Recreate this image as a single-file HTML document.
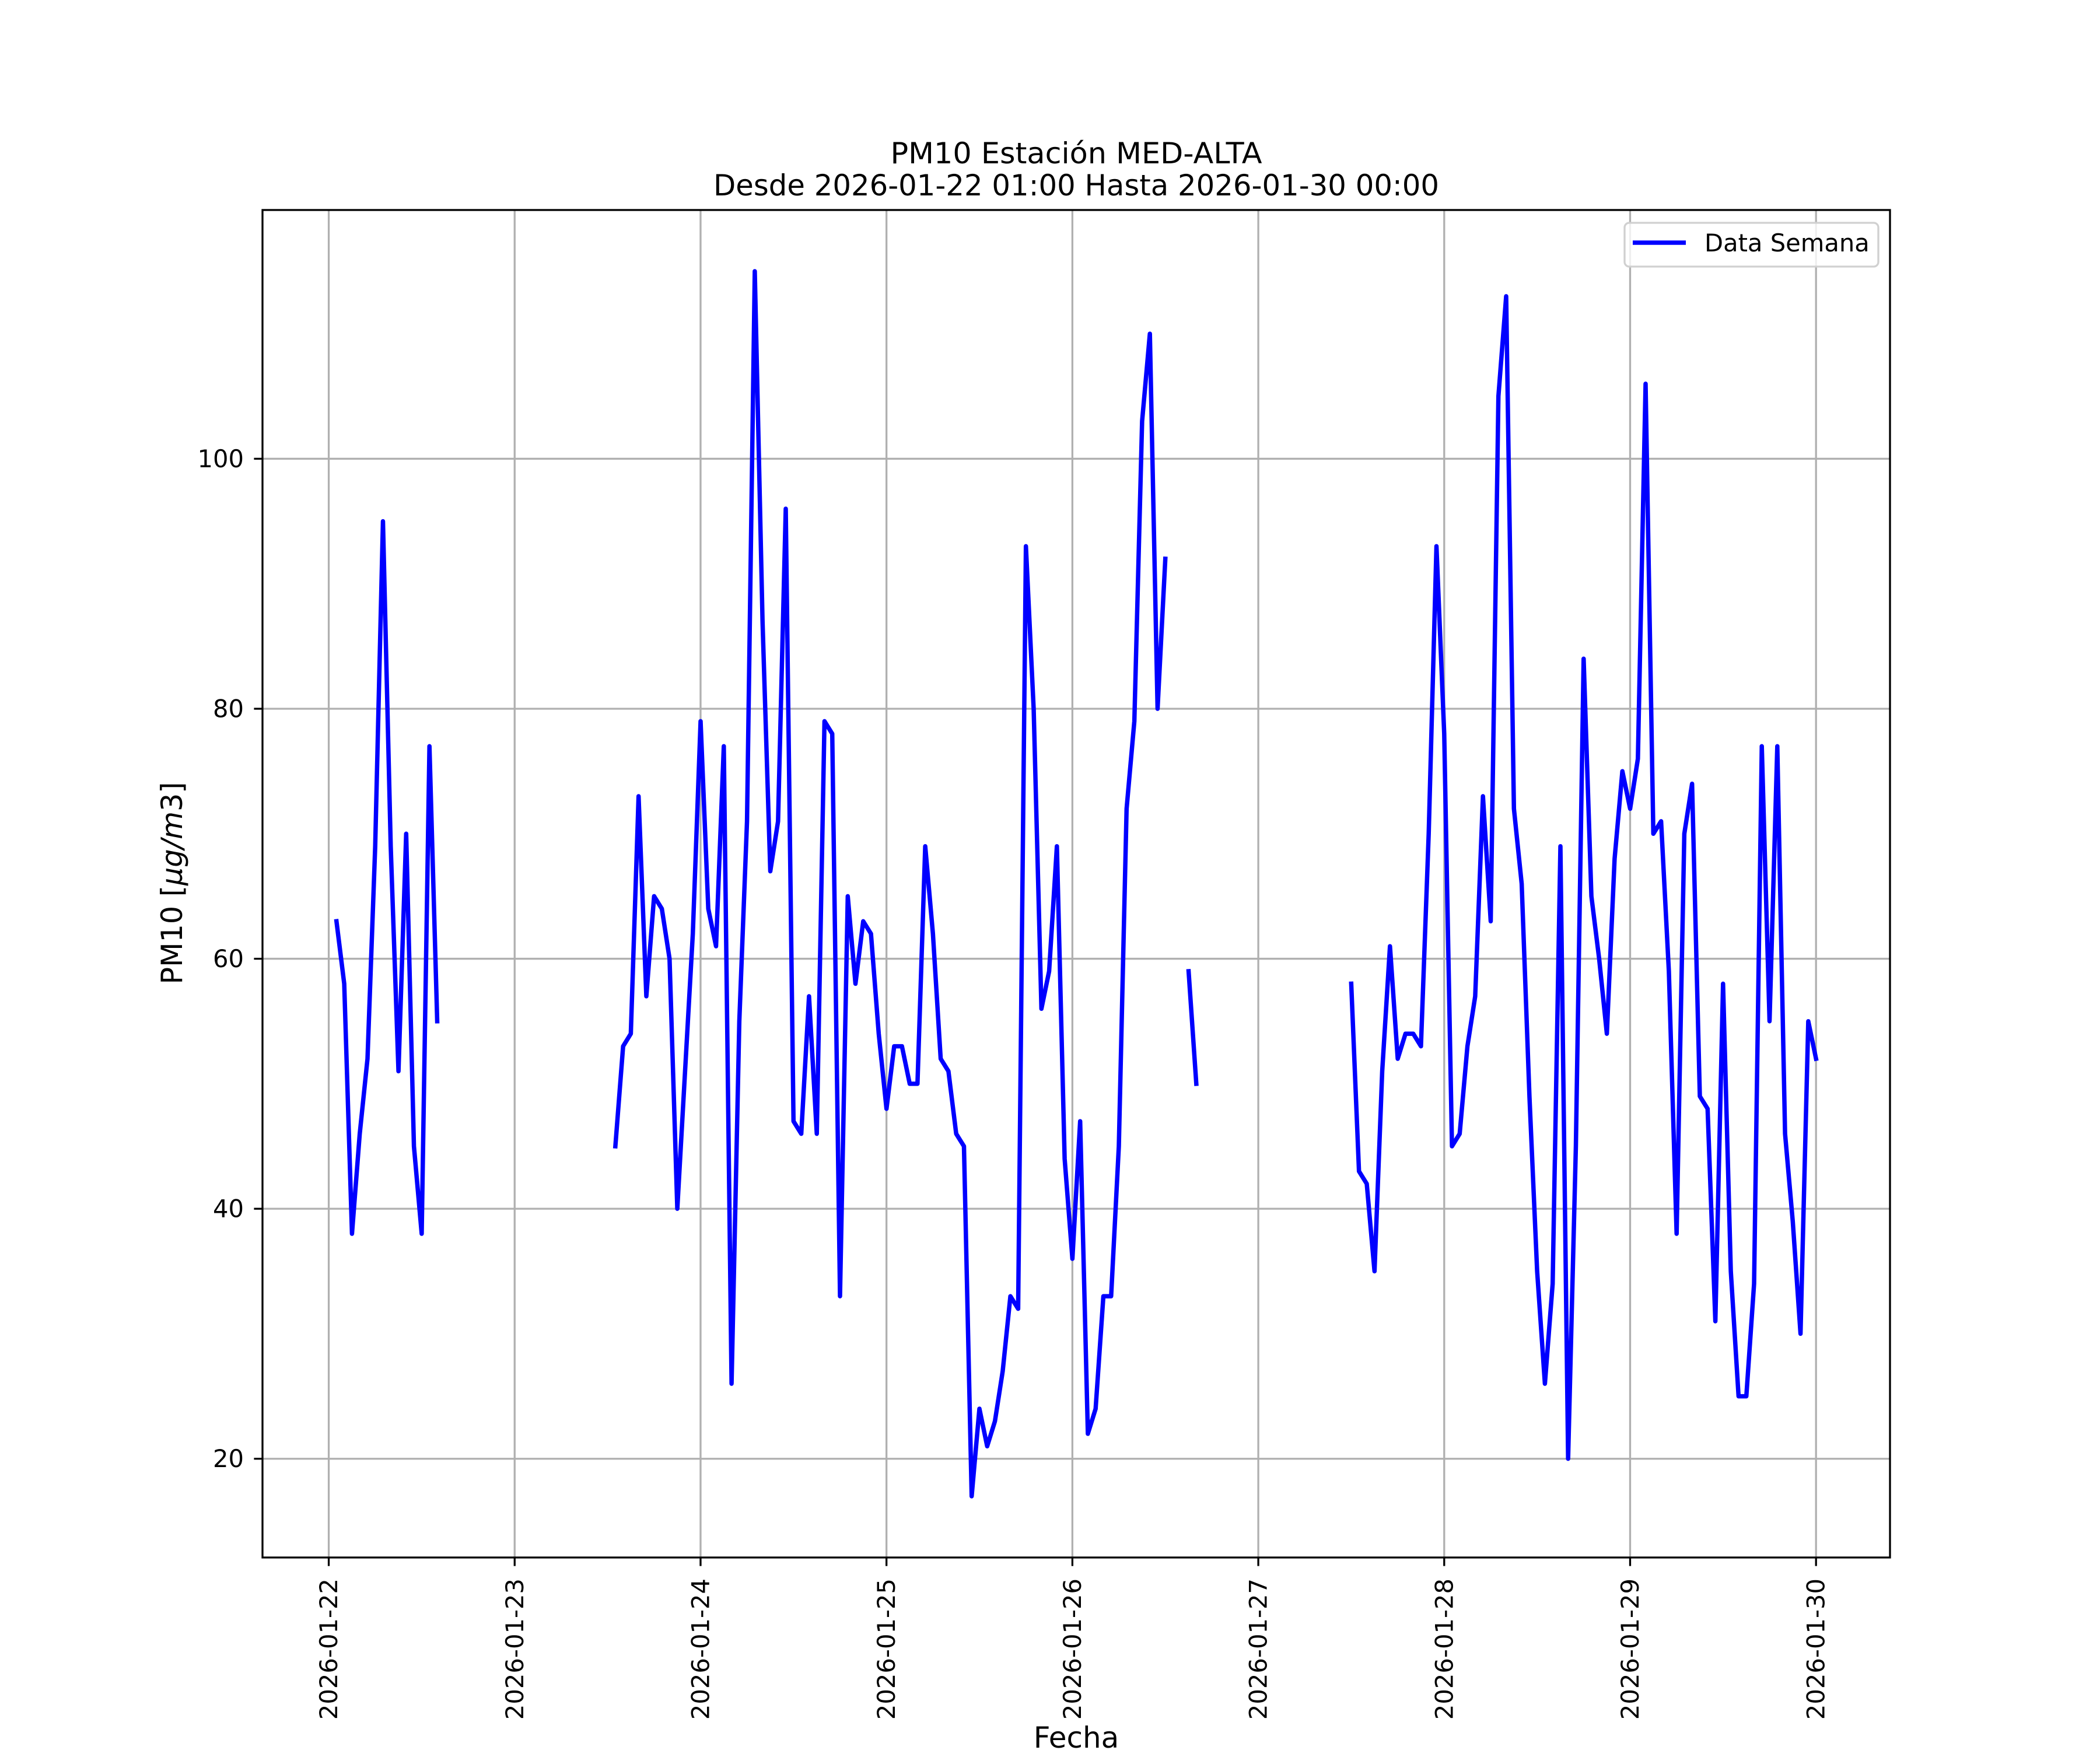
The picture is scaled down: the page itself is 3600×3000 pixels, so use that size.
<!DOCTYPE html>
<html><head><meta charset="utf-8">
<style>
html,body{margin:0;padding:0;background:#fff;}
svg{display:block;font-family:"DejaVu Sans","Liberation Sans",sans-serif;}
</style></head>
<body>
<svg id="chart" width="3600" height="3000" viewBox="0 0 3600 3000" xmlns="http://www.w3.org/2000/svg">
<rect x="0" y="0" width="3600" height="3000" fill="#fff"/>
<g id="grid"></g>
<g id="series"></g>
<g id="axes"></g>
<text x="1845" y="280" font-size="50" text-anchor="middle" textLength="637" lengthAdjust="spacingAndGlyphs">PM10 Estación MED-ALTA</text>
<text x="1845" y="335" font-size="50" text-anchor="middle" textLength="1244" lengthAdjust="spacingAndGlyphs">Desde 2026-01-22 01:00 Hasta 2026-01-30 00:00</text>
<text transform="translate(312,1514) rotate(-90)" font-size="50" text-anchor="middle" textLength="347" lengthAdjust="spacingAndGlyphs">PM10 [<tspan font-style="italic">μg/m</tspan>3]</text>
<text x="1845" y="2996" font-size="50" text-anchor="middle">Fecha</text>
<g>
<rect x="2785" y="382" width="435" height="75" rx="8" fill="#fff" fill-opacity="0.8" stroke="#d0d0d0" stroke-width="3.3"/>
<line x1="2799" y1="416" x2="2890" y2="416" stroke="#0000ff" stroke-width="7.5"/>
<text x="2922" y="431" font-size="41.67">Data Semana</text>
</g>
</svg>
<script>
// Data: hours since 2026-01-22 00:00 where each segment starts, and hourly PM10 values
const dayLabels = ["2026-01-22","2026-01-23","2026-01-24","2026-01-25","2026-01-26","2026-01-27","2026-01-28","2026-01-29","2026-01-30"];
const yTicks = [20, 40, 60, 80, 100];
const segStarts = [1, 37, 111, 132];
const seg1 = [63,58,38,46,52,69,95,69,51,70,45,38,77,55];
const seg2 = [45,53,54,73,57,65,64,60,40,51,62,79,
              64,61,77,26,55,71,115,87,67,71,96,47,
              46,57,46,79,78,33,65,58,63,62,54,48,
              53,53,50,50,69,62,52,51,46,45,17,24,
              21,23,27,33,32,93,80,56,59,69,44,36,
              47,22,24,33,33,45,72,79,103,110,80,92];
const seg3 = [59,50];
const seg4 = [58,43,42,35,51,61,52,54,54,53,70,93,
              78,45,46,53,57,73,63,105,113,72,66,49,
              35,26,34,69,20,45,84,65,60,54,68,75,
              72,76,106,70,71,59,38,70,74,49,48,31,
              58,35,25,25,34,77,55,77,46,39,30,55,
              52];
const segValues = [seg1, seg2, seg3, seg4];

const NS = "http://www.w3.org/2000/svg";
const AX = {l:450, r:3240, t:360, b:2670};
const X0 = -0.3563, X1 = 8.3979;   // days
const Y0 = 12.1, Y1 = 119.9;
function xs(days){ return AX.l + (days - X0) / (X1 - X0) * (AX.r - AX.l); }
function ys(v){ return AX.b - (v - Y0) / (Y1 - Y0) * (AX.b - AX.t); }
function mk(tag, attrs, parent){
  const e = document.createElementNS(NS, tag);
  for (const k in attrs) e.setAttribute(k, attrs[k]);
  parent.appendChild(e); return e;
}
const grid = document.getElementById('grid');
const axes = document.getElementById('axes');
const series = document.getElementById('series');

dayLabels.forEach((lab, i) => {
  const x = xs(i);
  const g = mk('line', {x1:x, y1:AX.t, x2:x, y2:AX.b, stroke:'#b0b0b0', 'stroke-width':3.3}, grid);
  
  
  const t = mk('line', {x1:x, y1:AX.b, x2:x, y2:AX.b+14.6, stroke:'#000', 'stroke-width':3.3}, axes);
  
  
  const tx = mk('text', {transform:`translate(${x},2706) rotate(-90)`, 'font-size':41.67, 'text-anchor':'end', 'dominant-baseline':'central'}, axes);
  tx.textContent = lab;
  
  
});
yTicks.forEach(v => {
  const y = ys(v);
  const g = mk('line', {x1:AX.l, y1:y, x2:AX.r, y2:y, stroke:'#b0b0b0', 'stroke-width':3.3}, grid);
  
  
  const t = mk('line', {x1:AX.l-14.6, y1:y, x2:AX.l, y2:y, stroke:'#000', 'stroke-width':3.3}, axes);
  
  
  const tx = mk('text', {x:418, y:y, 'font-size':41.67, 'text-anchor':'end', 'dominant-baseline':'central'}, axes);
  tx.textContent = String(v);
  
  
});
const frame = mk('rect', {x:AX.l, y:AX.t, width:AX.r-AX.l, height:AX.b-AX.t, fill:'none', stroke:'#000', 'stroke-width':3.3}, axes);



segValues.forEach((vals, si) => {
  const pts = vals.map((v, i) => xs((segStarts[si] + i) / 24).toFixed(1) + ',' + ys(v).toFixed(1)).join(' ');
  const pl = mk('polyline', {points:pts, fill:'none', stroke:'#0000ff', 'stroke-width':7.5, 'stroke-linejoin':'round', 'stroke-linecap':'square'}, series);
  
  
});
</script>
</body></html>
